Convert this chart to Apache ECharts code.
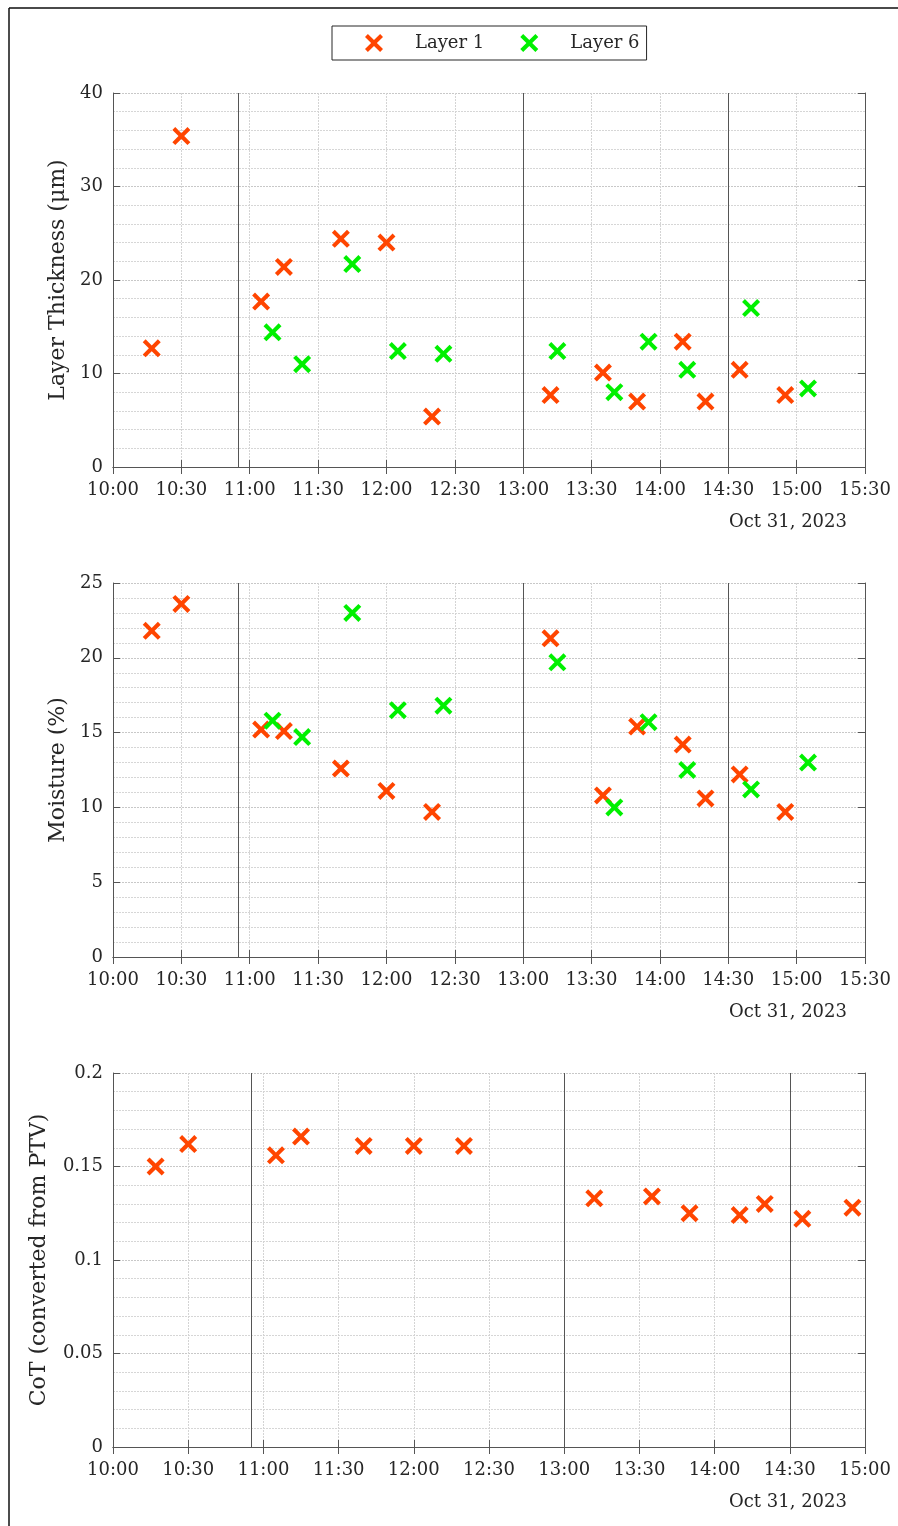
<!DOCTYPE html>
<html>
<head>
<meta charset="utf-8">
<script src="https://cdn.jsdelivr.net/npm/echarts@6/dist/echarts.min.js"></script>
<style>
  html, body { margin: 0; padding: 0; background: #fff; }
  #main { width: 898px; height: 1526px; }
</style>
</head>
<body>
<div id="main"></div>
<script>
// sample times (hh:mm, Oct 31, 2023)
var timesL1 = ['10:17', '10:30', '11:05', '11:15', '11:40', '12:00', '12:20',
               '13:12', '13:35', '13:50', '14:10', '14:20', '14:35', '14:55'];
var timesL6 = ['11:10', '11:23', '11:45', '12:05', '12:25',
               '13:15', '13:40', '13:55', '14:12', '14:40', '15:05'];

// layer thickness (um)
var thickL1 = [12.7, 35.4, 17.7, 21.4, 24.4, 24.0, 5.4, 7.7, 10.1, 7.0, 13.4, 7.0, 10.4, 7.7];
var thickL6 = [14.4, 11.0, 21.7, 12.4, 12.1, 12.4, 8.0, 13.4, 10.4, 17.0, 8.4];

// moisture (%)
var moistL1 = [21.8, 23.6, 15.2, 15.1, 12.6, 11.1, 9.7, 21.3, 10.8, 15.4, 14.2, 10.6, 12.2, 9.7];
var moistL6 = [15.8, 14.7, 23.0, 16.5, 16.8, 19.7, 10.0, 15.7, 12.5, 11.2, 13.0];

// CoT (converted from PTV), layer 1 only
var cotL1 = [0.150, 0.162, 0.156, 0.166, 0.161, 0.161, 0.161, 0.133, 0.134, 0.125, 0.124, 0.130, 0.122, 0.128];

// dark vertical separators
var breakTimes = ['10:55', '13:00', '14:30'];

var dateLabel = 'Oct 31, 2023';

//转换 hh:mm 为分钟
function toMin(s) {
    var p = s.split(':');
    return parseInt(p[0], 10) * 60 + parseInt(p[1], 10);
}
function fmtMin(v) {
    var h = Math.floor(v / 60), m = Math.round(v % 60);
    return h + ':' + (m < 10 ? '0' + m : m);
}
function pairs(ts, vs) {
    return ts.map(function (t, i) { return [toMin(t), vs[i]]; });
}

var FONT = 'DejaVu Serif';
var TXT = '#262626';
var AX = '#555555';
var ORANGE = '#FF4500';
var GREEN = '#00F000';
var XMARK = 'path://M0,16L16,0L50,34L84,0L100,16L66,50L100,84L84,100L50,66L16,100L0,84L34,50Z';

var panels = [
    { top: 93,  yName: 'Layer Thickness (\u03bcm)', yMax: 40, yStep: 10, xMax: 930, nameGap: 43, l1: thickL1, l6: thickL6 },
    { top: 583, yName: 'Moisture (%)', yMax: 25, yStep: 5, xMax: 930, nameGap: 43, l1: moistL1, l6: moistL6 },
    { top: 1073, yName: 'CoT (converted from PTV)', yMax: 0.2, yStep: 0.05, xMax: 900, nameGap: 63, l1: cotL1, l6: null }
];

var grids = [], xAxes = [], yAxes = [], series = [], graphics = [];

panels.forEach(function (p, i) {
    grids.push({ left: 113, width: 752, top: p.top, height: 374 });

    var xBase = {
        type: 'value', gridIndex: i, min: 600, max: p.xMax, interval: 30,
        axisLine: { show: true, lineStyle: { color: AX, width: 1 } },
        axisTick: { show: true, inside: true, length: 7, lineStyle: { color: AX } }
    };
    xAxes.push(Object.assign({}, xBase, {
        position: 'bottom',
        axisLabel: { formatter: fmtMin, color: TXT, fontFamily: FONT, fontSize: 18, margin: 14 },
        splitLine: { show: true, lineStyle: { color: '#d4d4d4', type: [2, 1], width: 1 } }
    }));
    xAxes.push(Object.assign({}, xBase, {
        position: 'top', axisLabel: { show: false }, splitLine: { show: false }
    }));

    var yBase = {
        type: 'value', gridIndex: i, min: 0, max: p.yMax, interval: p.yStep,
        axisLine: { show: true, lineStyle: { color: AX, width: 1 } },
        axisTick: { show: true, inside: true, length: 7, lineStyle: { color: AX } }
    };
    yAxes.push(Object.assign({}, yBase, {
        position: 'left',
        name: p.yName, nameLocation: 'middle', nameGap: p.nameGap,
        nameTextStyle: { color: TXT, fontFamily: FONT, fontSize: 22 },
        axisLabel: { color: TXT, fontFamily: FONT, fontSize: 18, margin: 10 },
        splitLine: { show: true, lineStyle: { color: '#c8c8c8', type: [2, 1], width: 1 } },
        minorTick: { show: false, splitNumber: 5 },
        minorSplitLine: { show: true, lineStyle: { color: '#d6d6d6', type: [2, 1], width: 1 } }
    }));
    yAxes.push(Object.assign({}, yBase, {
        position: 'right', axisLabel: { show: false }, splitLine: { show: false }
    }));

    series.push({
        name: 'Layer 1', type: 'scatter', xAxisIndex: i * 2, yAxisIndex: i * 2,
        data: pairs(timesL1, p.l1), symbol: XMARK, symbolSize: 18,
        itemStyle: { color: ORANGE, opacity: 1 }, z: 5,
        markLine: {
            silent: true, symbol: 'none', animation: false,
            label: { show: false },
            lineStyle: { color: '#555', type: 'solid', width: 1 },
            data: breakTimes.map(function (t) { return { xAxis: toMin(t) }; })
        }
    });
    if (p.l6) {
        series.push({
            name: 'Layer 6', type: 'scatter', xAxisIndex: i * 2, yAxisIndex: i * 2,
            data: pairs(timesL6, p.l6), symbol: XMARK, symbolSize: 18,
            itemStyle: { color: GREEN, opacity: 1 }, z: 5
        });
    }

    graphics.push({
        type: 'text', x: 788, y: p.top + 374 + 55,
        style: { text: dateLabel, fill: TXT, font: '18px "DejaVu Serif"', textAlign: 'center', textVerticalAlign: 'middle' }
    });
});

// outer frame (top and left edges)
graphics.push({ type: 'line', shape: { x1: 9, y1: 8, x2: 898, y2: 8 }, style: { stroke: '#4a4a4a', lineWidth: 2 } });
graphics.push({ type: 'line', shape: { x1: 9, y1: 8, x2: 9, y2: 1526 }, style: { stroke: '#111', lineWidth: 1.5 } });

var chart = echarts.init(document.getElementById('main'), null, { renderer: 'canvas' });
chart.setOption({
    animation: false,
    backgroundColor: '#fff',
    legend: {
        data: ['Layer 1', 'Layer 6'],
        left: 332, top: 26,
        orient: 'horizontal',
        padding: [8, 7, 8, 33],
        itemWidth: 18, itemHeight: 18, itemGap: 36,
        borderColor: '#262626', borderWidth: 1,
        textStyle: { color: TXT, fontFamily: FONT, fontSize: 18, padding: [0, 0, 0, 27] }
    },
    grid: grids,
    xAxis: xAxes,
    yAxis: yAxes,
    series: series,
    graphic: graphics
});
</script>
</body>
</html>
